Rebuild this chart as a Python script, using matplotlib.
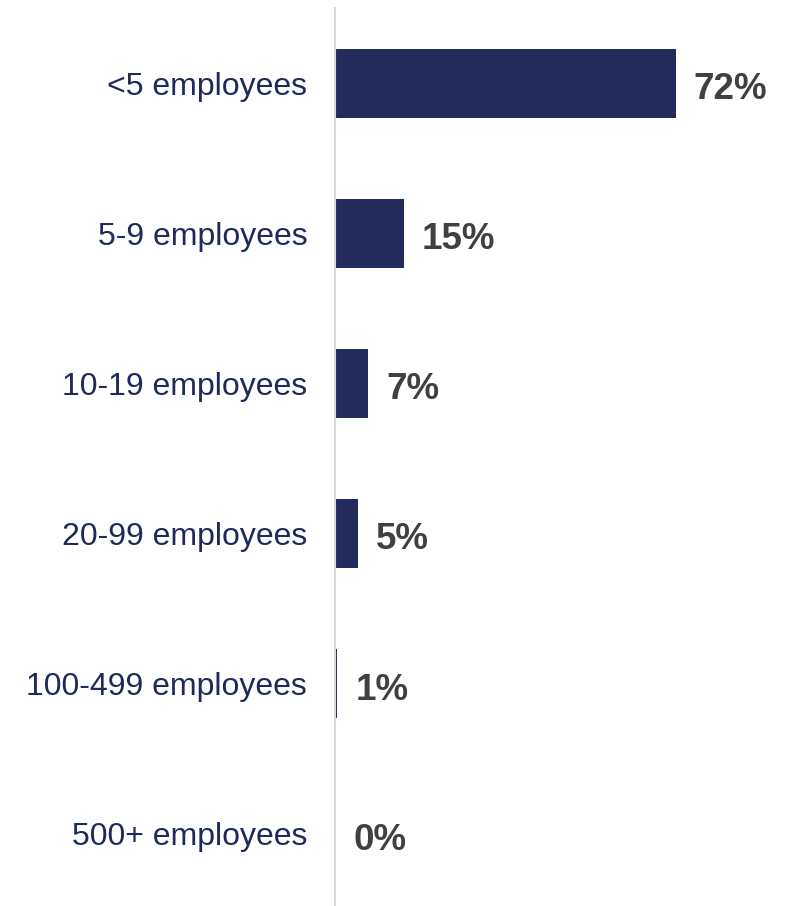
import numpy as np
import matplotlib.pyplot as plt

plt.rcParams['font.family'] = ['Liberation Sans', 'DejaVu Sans']

categories = ['<5 employees', '5-9 employees', '10-19 employees',
              '20-99 employees', '100-499 employees', '500+ employees']
values = [72, 14.6, 7, 4.8, 0.5, 0]
value_labels = ['72%', '15%', '7%', '5%', '1%', '0%']

bar_color = '#222B5C'
label_color = '#1F2A5A'
value_color = '#404040'

fig = plt.figure(figsize=(7.89, 9.06), dpi=100)
ax = fig.add_axes([335 / 789, -3 / 906, 1 - 335 / 789, 901 / 906])

y = np.arange(len(categories))
ax.barh(y, values, height=0.46, color=bar_color)
ax.set_ylim(len(categories) - 0.5, -0.5)
ax.set_xlim(0, 96)

for yi, v, lab in zip(y, values, value_labels):
    ax.annotate(lab, (v, yi), xytext=(13, -4.5), textcoords='offset points',
                va='center', ha='left', fontsize=26.5, fontweight='bold',
                color=value_color)

ax.set_yticks(y)
ax.set_yticklabels(categories, fontsize=23, color=label_color)
ax.tick_params(axis='y', length=0, pad=20)
ax.set_xticks([])

for s in ['top', 'right', 'bottom']:
    ax.spines[s].set_visible(False)
ax.spines['left'].set_color('#D9D9D9')
ax.spines['left'].set_linewidth(1.5)

fig.savefig('out.png', dpi=100)
